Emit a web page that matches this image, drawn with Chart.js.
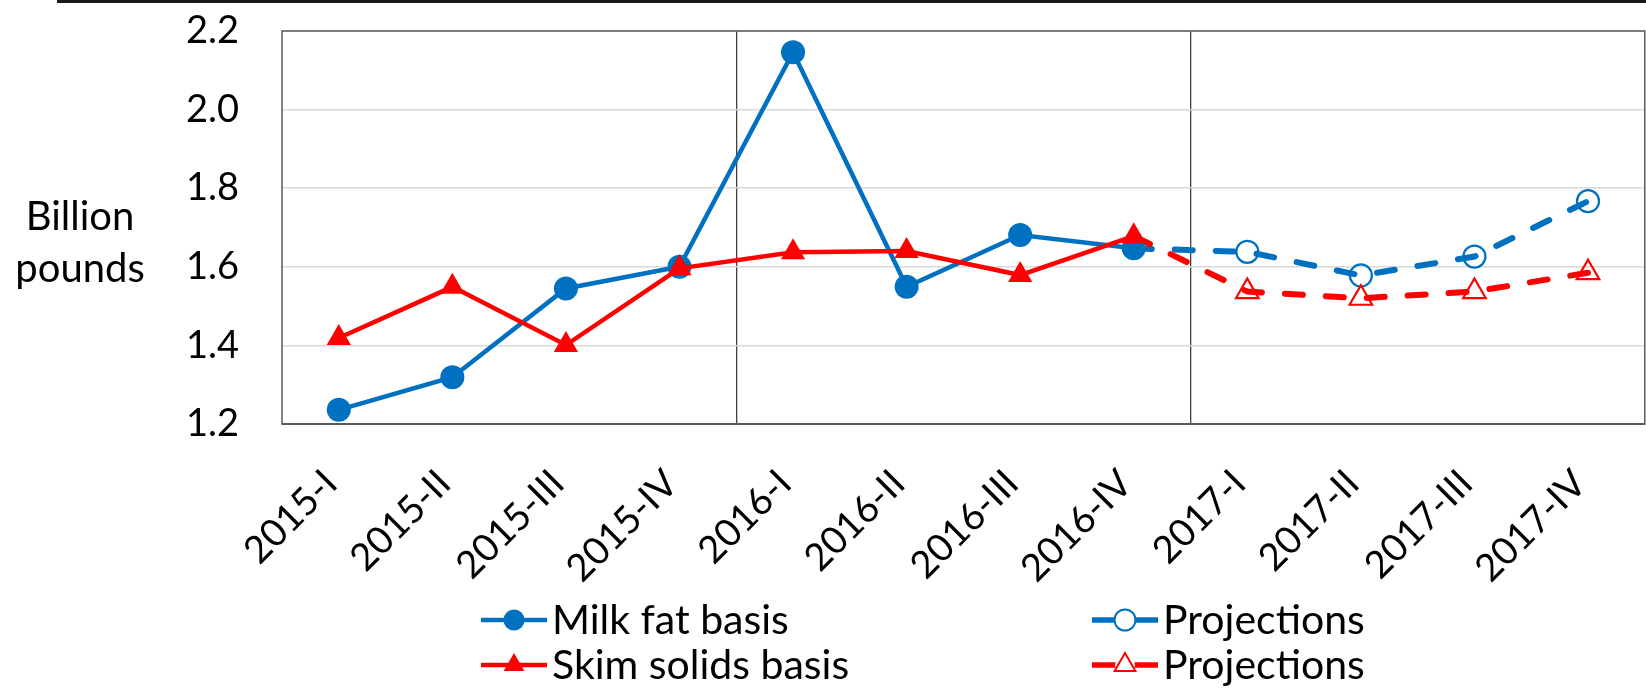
<!DOCTYPE html>
<html>
<head>
<meta charset="utf-8">
<script src="https://cdn.jsdelivr.net/npm/chart.js@4.4.1/dist/chart.umd.min.js"></script>
<style>
  html, body { margin: 0; padding: 0; background: #fff; overflow: hidden; }
  #wrap { width: 1646px; height: 690px; overflow: hidden; }
  canvas { display: block; }
</style>
</head>
<body>
<div id="wrap"><canvas id="chart" width="1660" height="690"></canvas></div>
<script>
// data
const quarters = ['2015-I', '2015-II', '2015-III', '2015-IV',
                  '2016-I', '2016-II', '2016-III', '2016-IV',
                  '2017-I', '2017-II', '2017-III', '2017-IV'];
const milkFat        = [1.236, 1.319, 1.545, 1.600, 2.146, 1.549, 1.681, 1.647, null, null, null, null];
const skimSolids     = [1.419, 1.549, 1.401, 1.596, 1.637, 1.640, 1.579, 1.678, null, null, null, null];
const milkFatProj    = [null, null, null, null, null, null, null, 1.647, 1.638, 1.578, 1.626, 1.767];
const skimSolidsProj = [null, null, null, null, null, null, null, 1.678, 1.537, 1.520, 1.537, 1.585];
const yTicks = [1.2, 1.4, 1.6, 1.8, 2.0, 2.2];
const axisTitle = ['Billion', 'pounds'];
const seriesNames = ['Milk fat basis', 'Skim solids basis', 'Projections', 'Projections'];

const BLUE = '#0070C0';
const RED = '#FF0000';
const FONT = 'Lato, "Open Sans", sans-serif';

// marker drawing (legend)
function marker(ctx, style, x, y, r, color, hollow) {
  ctx.save();
  ctx.beginPath();
  if (style === 'circle') {
    ctx.arc(x, y, r, 0, Math.PI * 2);
  } else {
    for (let i = 0; i < 3; i++) {
      const a = i * 2 * Math.PI / 3;
      const px = x + Math.sin(a) * r, py = y - Math.cos(a) * r;
      i ? ctx.lineTo(px, py) : ctx.moveTo(px, py);
    }
    ctx.closePath();
  }
  if (hollow) {
    ctx.strokeStyle = color; ctx.lineWidth = 2; ctx.stroke();
  } else {
    ctx.fillStyle = color; ctx.fill();
  }
  ctx.restore();
}

const decor = {
  id: 'decor',
  beforeDatasetsDraw(chart) {
    const { ctx, chartArea: a } = chart;
    ctx.save();
    ctx.strokeStyle = '#595959';
    ctx.lineWidth = 1.5;
    ctx.strokeRect(a.left, a.top, a.right - a.left, a.bottom - a.top);
    ctx.lineWidth = 2.2;
    ctx.beginPath(); ctx.moveTo(a.left, a.bottom); ctx.lineTo(a.right, a.bottom); ctx.stroke();
    ctx.restore();
  },
  afterDraw(chart) {
    const { ctx } = chart;
    ctx.save();
    // top rule
    ctx.fillStyle = '#1a1a1a';
    ctx.fillRect(57, 0, chart.width, 3);
    // axis title
    ctx.fillStyle = '#000';
    ctx.font = '40px ' + FONT;
    ctx.textAlign = 'center';
    ctx.textBaseline = 'alphabetic';
    ctx.fillText(axisTitle[0], 80, 230);
    ctx.fillText(axisTitle[1], 80, 282);
    // legend
    const items = [
      { x: 481, y: 620, ds: 0 }, { x: 1092, y: 620, ds: 2 },
      { x: 481, y: 665, ds: 1 }, { x: 1092, y: 665, ds: 3 }
    ];
    ctx.font = '41px ' + FONT;
    ctx.textAlign = 'left';
    ctx.textBaseline = 'middle';
    items.forEach(it => {
      const ds = chart.data.datasets[it.ds];
      const hollow = it.ds >= 2;
      const w = 66, cx = it.x + w / 2;
      ctx.strokeStyle = ds.borderColor;
      ctx.lineWidth = hollow ? 5.5 : 4.5;
      ctx.beginPath(); ctx.moveTo(it.x, it.y); ctx.lineTo(it.x + w, it.y); ctx.stroke();
      if (hollow) {
        ctx.fillStyle = '#fff';
        ctx.beginPath(); ctx.arc(cx, it.y, 10, 0, Math.PI * 2); ctx.fill();
      }
      marker(ctx, ds.pointStyle, cx, it.y, ds.pointStyle === 'circle' ? 10.5 : 12, ds.borderColor, hollow);
      ctx.fillStyle = '#000';
      ctx.fillText(ds.label, it.x + w + 5, it.y + 1);
    });
    ctx.restore();
  }
};

new Chart(document.getElementById('chart'), {
  type: 'line',
  data: {
    labels: quarters,
    datasets: [
      { label: seriesNames[0], data: milkFat, borderColor: BLUE, backgroundColor: BLUE,
        borderWidth: 4.5, pointStyle: 'circle', pointRadius: 12, pointBorderWidth: 0, order: 2 },
      { label: seriesNames[1], data: skimSolids, borderColor: RED, backgroundColor: RED,
        borderWidth: 4.5, pointStyle: 'triangle', pointRadius: 14, pointBorderWidth: 0, order: 1 },
      { label: seriesNames[2], data: milkFatProj, borderColor: BLUE, backgroundColor: 'rgba(0,0,0,0)',
        borderWidth: 6, borderDash: [18, 23], borderCapStyle: 'round', pointStyle: 'circle',
        pointRadius: c => c.dataIndex === 7 ? 0 : 11, pointBorderWidth: 2.2, order: 4 },
      { label: seriesNames[3], data: skimSolidsProj, borderColor: RED, backgroundColor: 'rgba(0,0,0,0)',
        borderWidth: 6, borderDash: [18, 23], borderCapStyle: 'round', pointStyle: 'triangle',
        pointRadius: c => c.dataIndex === 7 ? 0 : 13, pointBorderWidth: 2.2, order: 3 }
    ]
  },
  options: {
    responsive: false,
    animation: false,
    events: [],
    layout: { padding: { top: 31, right: 3, bottom: 0, left: 0 } },
    plugins: { legend: { display: false }, tooltip: { enabled: false } },
    scales: {
      x: {
        offset: true,
        grid: {
          offset: true, drawTicks: false, lineWidth: 1.3,
          color: c => (c.index === 4 || c.index === 8) ? '#404040' : 'rgba(0,0,0,0)'
        },
        border: { display: false },
        ticks: { color: '#000', font: { family: FONT, size: 38 }, minRotation: 45, maxRotation: 45,
                 autoSkip: false, padding: 37, labelOffset: -8 },
        afterFit: s => { s.height = 266; s.paddingLeft = 0; s.paddingRight = 0; }
      },
      y: {
        min: yTicks[0], max: yTicks[yTicks.length - 1],
        grid: { color: '#D9D9D9', lineWidth: 1.5, drawTicks: false },
        border: { display: false },
        ticks: { stepSize: 0.2, color: '#000', font: { family: FONT, size: 38 }, padding: 43,
                 callback: v => v.toFixed(1) },
        afterFit: s => { s.width = 282; s.paddingTop = 0; s.paddingBottom = 0; }
      }
    }
  },
  plugins: [decor]
});
</script>
</body>
</html>
